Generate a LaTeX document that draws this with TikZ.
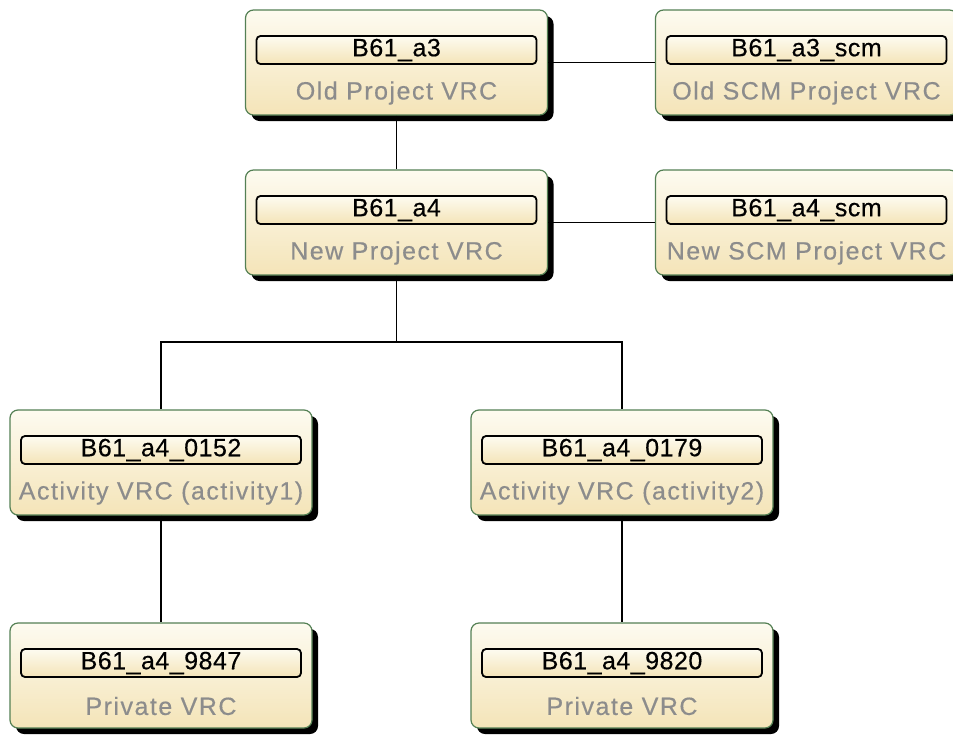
\documentclass[tikz,border=0pt]{standalone}
\usepackage{fontspec}
\newfontfamily\vrcidfont[LetterSpace=2,FakeBold=0.4]{Liberation Sans}
\newfontfamily\vrclblfont[LetterSpace=6,FakeBold=0.4]{Liberation Sans}
\usetikzlibrary{shadows,positioning}
\definecolor{vrcborder}{RGB}{84,128,84}
\definecolor{vrctop}{RGB}{253,251,240}
\definecolor{vrcbottom}{RGB}{244,228,184}
\definecolor{vrcgray}{RGB}{140,140,140}
\tikzset{
    % outer box of a VRC
    vrcbox/.style={
        draw=vrcborder, line width=1.2pt, rounded corners=8pt,
        top color=vrctop, bottom color=vrcbottom,
        minimum width=302pt, minimum height=105pt, inner sep=0pt,
        general shadow={fill=black, shadow xshift=6pt, shadow yshift=-6pt}
    },
    % name bar inside the box
    vrcid/.style={
        draw=black, line width=1.8pt, rounded corners=4pt,
        top color=vrctop, bottom color=vrcbottom,
        minimum width=280pt, minimum height=28pt, inner sep=0pt,
        font=\vrcidfont\fontsize{25}{25}\selectfont
    },
    vrclabel/.style={
        text=vrcgray, inner sep=0pt,
        font=\vrclblfont\fontsize{25}{25}\selectfont
    },
    link/.style={line width=1.2pt, black}
}

\begin{document}
\begin{tikzpicture}[x=1pt, y=1pt]
    \useasboundingbox (0,0) rectangle (953,-734);

    % project level
    \node[vrcbox] (oldprj) at (396.5,-62.5) {};
    \node[vrcid] (oldprjid) at ([yshift=12.5pt]oldprj.center) {B61\_a3};
    \node[vrclabel] (oldprjlbl) at ([yshift=-30.5pt]oldprj.center) {Old Project VRC};

    \node[vrcbox] (oldscm) at (806.5,-62.5) {};
    \node[vrcid] (oldscmid) at ([yshift=12.5pt]oldscm.center) {B61\_a3\_scm};
    \node[vrclabel] (oldscmlbl) at ([yshift=-30.5pt]oldscm.center) {Old SCM Project VRC};

    \node[vrcbox] (newprj) at (396.5,-222.5) {};
    \node[vrcid] (newprjid) at ([yshift=12.5pt]newprj.center) {B61\_a4};
    \node[vrclabel] (newprjlbl) at ([yshift=-30.5pt]newprj.center) {New Project VRC};

    \node[vrcbox] (newscm) at (806.5,-222.5) {};
    \node[vrcid] (newscmid) at ([yshift=12.5pt]newscm.center) {B61\_a4\_scm};
    \node[vrclabel] (newscmlbl) at ([yshift=-30.5pt]newscm.center) {New SCM Project VRC};

    % activity level
    \node[vrcbox] (actone) at (161,-462.5) {};
    \node[vrcid] (actoneid) at ([yshift=12.5pt]actone.center) {B61\_a4\_0152};
    \node[vrclabel] (actonelbl) at ([yshift=-30.5pt]actone.center) {Activity VRC (activity1)};

    \node[vrcbox] (acttwo) at (622,-462.5) {};
    \node[vrcid] (acttwoid) at ([yshift=12.5pt]acttwo.center) {B61\_a4\_0179};
    \node[vrclabel] (acttwolbl) at ([yshift=-30.5pt]acttwo.center) {Activity VRC (activity2)};

    % private level
    \node[vrcbox] (privone) at (161,-675.5) {};
    \node[vrcid] (privoneid) at ([yshift=12.5pt]privone.center) {B61\_a4\_9847};
    \node[vrclabel] (privonelbl) at ([yshift=-30.5pt]privone.center) {Private VRC};

    \node[vrcbox] (privtwo) at (622,-675.5) {};
    \node[vrcid] (privtwoid) at ([yshift=12.5pt]privtwo.center) {B61\_a4\_9820};
    \node[vrclabel] (privtwolbl) at ([yshift=-30.5pt]privtwo.center) {Private VRC};

    % links
    \coordinate (fork) at (396.5,-342);
    \draw[link] (oldprj) -- (oldscm);
    \draw[link] (oldprj) -- (newprj);
    \draw[link] (newprj) -- (newscm);
    \draw[link] (newprj) -- (fork) -| (actone);
    \draw[link] (fork) -| (acttwo);
    \draw[link] (actone) -- (privone);
    \draw[link] (acttwo) -- (privtwo);
\end{tikzpicture}
\end{document}
